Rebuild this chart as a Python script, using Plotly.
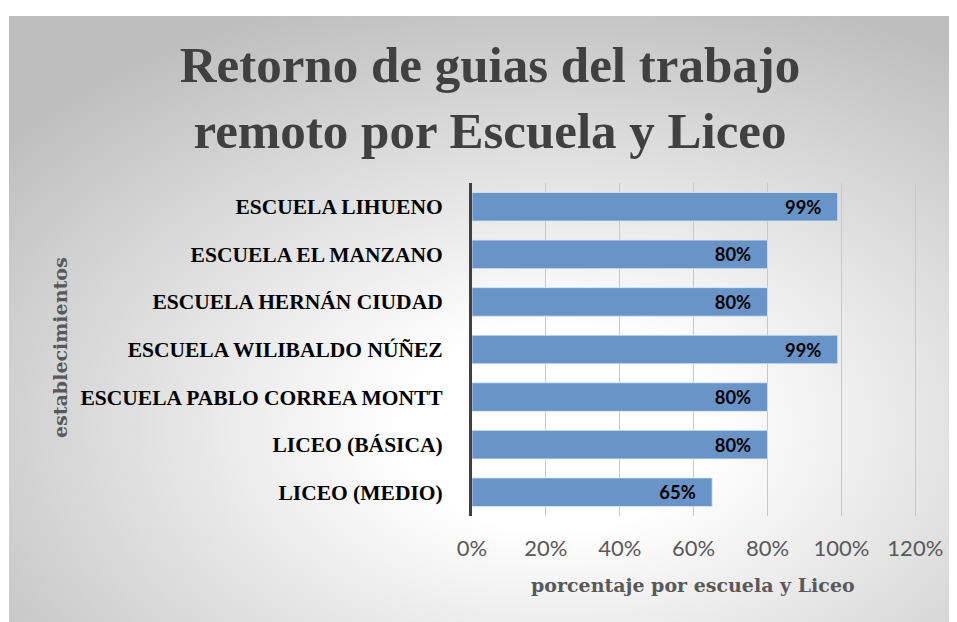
import base64
import plotly.graph_objects as go

categories = ["ESCUELA LIHUENO", "ESCUELA EL MANZANO", "ESCUELA HERNÁN CIUDAD",
              "ESCUELA WILIBALDO NÚÑEZ", "ESCUELA PABLO CORREA MONTT",
              "LICEO (BÁSICA)", "LICEO (MEDIO)"]
values = [99, 80, 80, 99, 80, 80, 65]
tick_vals = [0, 20, 40, 60, 80, 100, 120]
tick_text = ["0%", "20%", "40%", "60%", "80%", "100%", "120%"]

W, H = 957, 622
OFF = 7  # page offset of the figure inside the browser window
XMAX = 121
L, T = 471 - OFF, 182 - OFF
R, B = W - (918 - OFF), H - (515 - OFF)
pw, ph = W - L - R, H - T - B

svg = ('<svg xmlns="http://www.w3.org/2000/svg" width="942" height="607" viewBox="0 0 942 607" preserveAspectRatio="none">'
       '<defs><radialGradient id="g" cx="0.58" cy="0.68" r="0.75">'
       '<stop offset="0" stop-color="#ffffff"/><stop offset="0.22" stop-color="#ffffff"/>'
       '<stop offset="1" stop-color="#bebebe"/></radialGradient></defs>'
       '<rect x="0" y="0" width="942" height="607" fill="url(#g)"/></svg>')
src = "data:image/svg+xml;base64," + base64.b64encode(svg.encode()).decode()


def px_x(p):
    return (p - OFF - L) / pw


def px_y(p):
    return (H - B - (p - OFF)) / ph


NB = "\u00a0"

fig = go.Figure(go.Bar(
    y=categories, x=values, orientation="h",
    marker=dict(color="#6894C8", line=dict(color="rgba(220,230,245,0.8)", width=1)),
    width=0.6,
    text=[f"{v}%{NB*3}" for v in values], textposition="inside", insidetextanchor="end",
    textfont=dict(family="Lato", size=22, color="black", weight="bold"),
    cliponaxis=False, hoverinfo="skip",
))

fig.update_layout(
    width=W, height=H,
    margin=dict(l=L, r=R, t=T, b=B, autoexpand=False),
    paper_bgcolor="white", plot_bgcolor="rgba(0,0,0,0)",
    showlegend=False,
    title=dict(text="Retorno de guias del trabajo<br>remoto por Escuela y Liceo",
               x=(489 - OFF) / W, xanchor="center", xref="container",
               y=1 - 74 / H, yanchor="top", yref="container",
               font=dict(family="Liberation Serif", size=51, color="#404040", weight="bold")),
    images=[dict(source=src, xref="paper", yref="paper",
                 x=px_x(8), y=px_y(15), sizex=(950 - 8) / pw, sizey=(622 - 15) / ph,
                 xanchor="left", yanchor="top", sizing="stretch", layer="below")],
    xaxis=dict(range=[0, XMAX], tickvals=tick_vals, ticktext=tick_text, automargin=False,
               showgrid=True, gridcolor="#c8c8c8", gridwidth=1, zeroline=False,
               showline=False, ticks="", ticklabelstandoff=17,
               tickfont=dict(family="Lato", size=22, color="#595959")),
    yaxis=dict(categoryorder="array", categoryarray=categories, autorange="reversed",
               automargin=False,
               showline=True, linecolor="#404040", linewidth=3, ticks="",
               showgrid=False, ticklabelstandoff=22,
               tickfont=dict(family="Liberation Serif", size=21.5, color="black", weight="bold")),
    annotations=[
        dict(text="porcentaje por escuela y Liceo", xref="paper", yref="paper",
             x=px_x(692), y=px_y(584), showarrow=False, xanchor="center", yanchor="middle",
             font=dict(family="DejaVu Serif", size=19, color="#595959", weight="bold")),
        dict(text="establecimientos", xref="paper", yref="paper", textangle=-90,
             x=px_x(59), y=px_y(347), showarrow=False, xanchor="center", yanchor="middle",
             font=dict(family="DejaVu Serif", size=19, color="#595959", weight="bold")),
    ],
)

fig.write_html("out.html")
